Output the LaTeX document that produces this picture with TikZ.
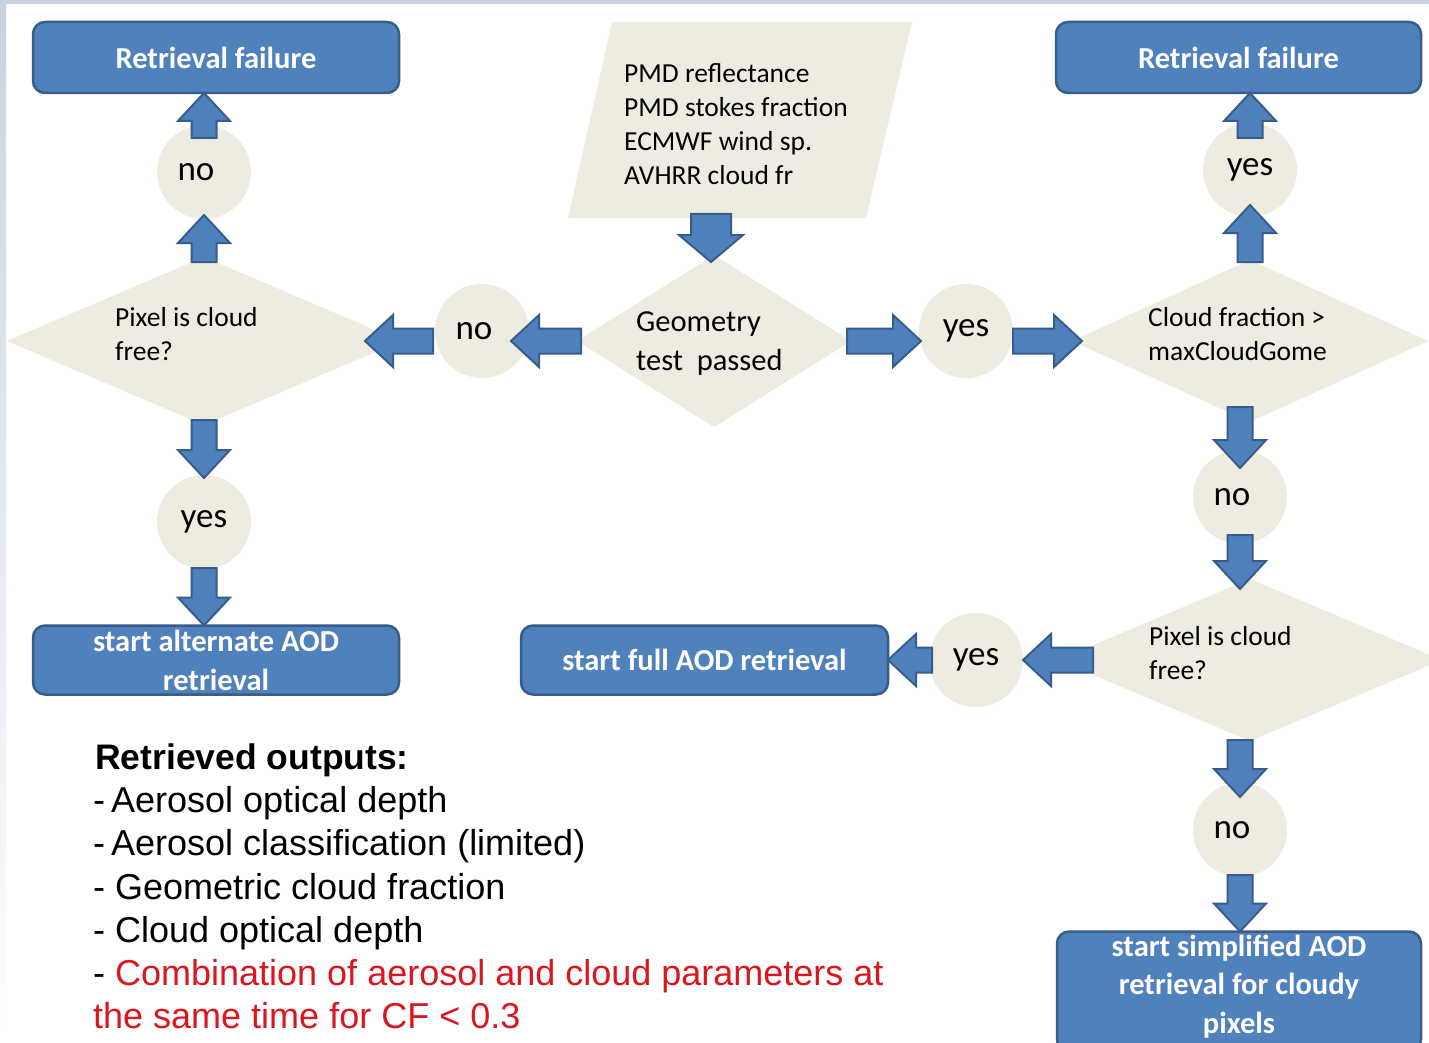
\documentclass[tikz,border=0pt]{standalone}
\usepackage{fontspec}
\setmainfont{Carlito}
\newfontfamily\arialf{Liberation Sans}
\usetikzlibrary{calc,shapes.geometric}
\definecolor{boxblue}{HTML}{4F81BD}
\definecolor{boxline}{HTML}{385D8A}
\definecolor{beige}{HTML}{EEECE1}
\definecolor{bgblue}{HTML}{C9D3E0}
\definecolor{outred}{RGB}{220,22,30}
\newcommand\barrowx[5]{%
  \coordinate (ba-s) at (#4);
  \coordinate (ba-t) at (#5);
  \coordinate (ba-h) at ($(ba-t)!#3!(ba-s)$);
  \filldraw[arrowsty] ($(ba-s)!#1!90:(ba-t)$) -- ($(ba-h)!#1!90:(ba-t)$) -- ($(ba-h)!#2!90:(ba-t)$) -- (ba-t) -- ($(ba-h)!#2!-90:(ba-t)$) -- ($(ba-h)!#1!-90:(ba-t)$) -- ($(ba-s)!#1!-90:(ba-t)$) -- cycle;}
\newcommand\barrow[2]{\barrowx{12.5pt}{26pt}{28pt}{#1}{#2}}
\newcommand\notxt{no\hspace*{16pt}}
\tikzset{
  box/.style={rectangle, rounded corners=12pt, fill=boxblue, draw=boxline, line width=2.5pt, text=white,
    font=\fontsize{30.5}{39}\selectfont\bfseries, align=center, inner sep=0pt, outer sep=0pt},
  boxtxt/.style={text=white, font=\fontsize{30.5}{38.5}\selectfont\bfseries, align=center, inner sep=0pt},
  circ/.style={circle, fill=beige, inner sep=0pt, outer sep=0pt, minimum size=94pt, font=\fontsize{35}{40}\selectfont},
  dia/.style={diamond, fill=beige, inner sep=0pt, outer sep=0pt},
  arrowsty/.style={fill=boxblue, draw=boxline, line width=2pt, line join=miter},
  lbl/.style={font=\fontsize{27.5}{34}\selectfont, align=left, anchor=west, inner sep=0pt},
  outtxt/.style={font=\arialf\fontsize{36}{42}\selectfont, anchor=base west, inner sep=0pt}
}
\begin{document}
\begin{tikzpicture}[x=1pt,y=-1pt]
\useasboundingbox (0,0) rectangle (1429,1043);
\fill[white] (0,0) rectangle (1429,1043);
\fill[bgblue] (0,0) rectangle (1429,4);
\shade[top color=bgblue, bottom color=white] (0,0) rectangle (6,1043);

% input parallelogram
\fill[beige] (612,22) -- (912,22) -- (866,218) -- (568,218) -- cycle;
\node[lbl] (inp) at (624,124) {PMD reflectance\\PMD stokes fraction\\ECMWF wind sp.\\AVHRR cloud fr};
\coordinate (pInB) at (711,214);

% diamonds
\node[dia, minimum width=394pt, minimum height=168pt] (dL) at (204,341) {};
\node[dia, minimum width=274pt, minimum height=172pt] (dG) at (714,341) {};
\node[dia, minimum width=356pt, minimum height=162pt] (dC) at (1250,341) {};
\node[dia, minimum width=384pt, minimum height=162pt] (dP) at (1250,660) {};
\node[lbl] (dLt) at (115,334) {Pixel is cloud\\free?};
\node[lbl, font=\fontsize{30.5}{39}\selectfont] (dGt) at (636,344) {Geometry\\test\ \ passed};
\node[lbl] (dCt) at (1148,334) {Cloud fraction >\\maxCloudGome};
\node[lbl] (dPt) at (1149,653) {Pixel is cloud\\free?};

% circles
\node[circ] (cNoL) at (204,172) {\notxt};
\node[circ] (cYesL) at (204,522) {yes};
\node[circ] (cNoM) at (482,331) {\notxt};
\node[circ] (cYesM) at (966,331) {yes};
\node[circ] (cYesR) at (1250,170) {yes};
\node[circ] (cNoR1) at (1240,497) {\notxt};
\node[circ] (cYesB) at (976,660) {yes};
\node[circ] (cNoR2) at (1240,830) {\notxt};

% boxes
\node[box, minimum width=366pt, minimum height=71pt] (fL) at (216,57.5) {Retrieval failure};
\node[box, minimum width=365pt, minimum height=71pt] (fR) at (1238.5,57.5) {Retrieval failure};
\node[box, minimum width=366pt, minimum height=69pt] (alt) at (216,660) {start alternate AOD\\retrieval};
\node[box, minimum width=367pt, minimum height=69pt] (full) at (704.5,660) {start full AOD retrieval};
\node[box, minimum width=364pt, minimum height=120pt] (simp) at (1239,991.5) {};
\node[boxtxt] (simpt) at (1239,986.5) {start simplified AOD\\retrieval for cloudy\\pixels};

% block arrows
\barrow{$(dL.north)+(0,5)$}{$(cNoL.south)+(0,-4)$}
\barrow{$(cNoL.north)+(0,13)$}{cNoL.north |- fL.south}
\barrow{$(dL.south)+(0,-5)$}{$(cYesL.north)+(0,3)$}
\barrow{$(cYesL.south)+(0,-1)$}{cYesL.south |- alt.north}
\barrow{$(dG.west)+(4,0)$}{$(cNoM.east |- dG.west)+(-18,0)$}
\barrow{$(cNoM.west |- dG.west)+(-2,0)$}{$(dL.east)+(-36,0)$}
\barrowx{20pt}{32pt}{27pt}{pInB}{$(pInB |- dG.north)+(0,7)$}
\barrow{$(dG.east)+(-4,0)$}{$(cYesM.west |- dG.east)+(2,0)$}
\barrow{cYesM.east |- dG.east}{$(dC.west)+(10,0)$}
\barrow{$(dC.north)+(0,2)$}{$(cYesR.south)+(0,-12)$}
\barrow{$(cYesR.north)+(0,15)$}{cYesR.north |- fR.south}
\barrow{$(cNoR1.north |- dC.south)+(0,-15)$}{$(cNoR1.north)+(0,18)$}
\barrow{$(cNoR1.south)+(0,-9)$}{$(cNoR1.south |- dP.north)+(0,10)$}
\barrow{$(dP.west)+(35,0)$}{cYesB.east}
\barrow{$(cYesB.west)+(3,0)$}{full.east}
\barrow{$(cNoR2.north |- dP.south)+(0,-1)$}{$(cNoR2.north)+(0,14)$}
\barrow{$(cNoR2.south)+(0,-2)$}{cNoR2.south |- simp.north}

% outputs text
\node[outtxt, font=\arialf\bfseries\fontsize{35.5}{42}\selectfont] (o1) at (95,769) {Retrieved outputs:};
\node[outtxt] (o2) at (93,812) {-\,Aerosol optical depth};
\node[outtxt] (o3) at (93,855) {-\,Aerosol classification (limited)};
\node[outtxt] (o4) at (93,899) {- Geometric cloud fraction};
\node[outtxt] (o5) at (93,942) {- Cloud optical depth};
\node[outtxt] (o6) at (93,985) {- \textcolor{outred}{Combination of aerosol and cloud parameters at}};
\node[outtxt, text=outred] (o7) at (93,1028) {the same time for CF < 0.3};
\end{tikzpicture}
\end{document}
